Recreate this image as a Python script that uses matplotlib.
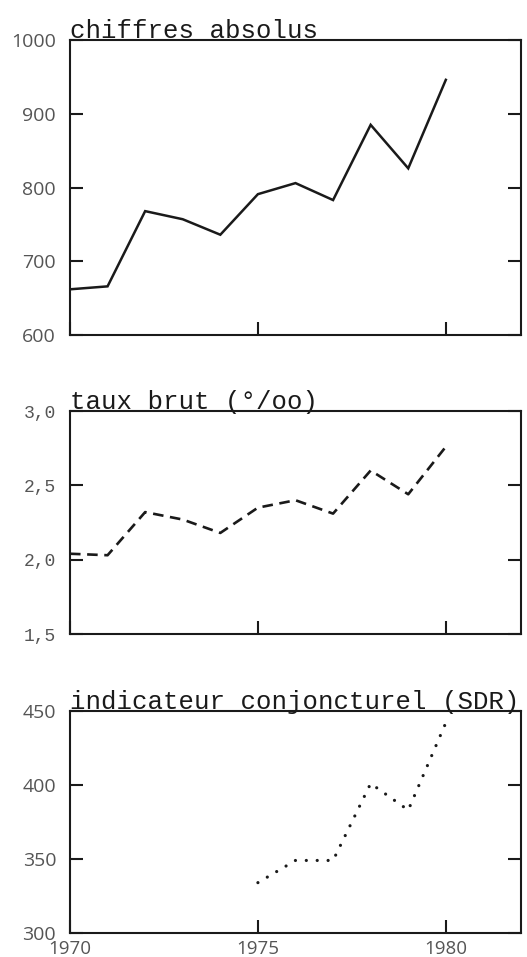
import matplotlib.pyplot as plt
import matplotlib.ticker as mticker

# données
annees = [1970, 1971, 1972, 1973, 1974, 1975, 1976, 1977, 1978, 1979, 1980]
chiffres = [662, 666, 768, 757, 736, 791, 806, 783, 885, 826, 946]
taux = [2.04, 2.03, 2.32, 2.27, 2.18, 2.35, 2.40, 2.31, 2.60, 2.44, 2.76]

annees_icf = [1975, 1976, 1977, 1978, 1979, 1980]
icf = [334, 349, 349, 401, 383, 442]

titres = ['chiffres absolus', 'taux brut (°/oo)', 'indicateur conjoncturel (SDR)']
yticks_1 = [600, 700, 800, 900, 1000]
yticks_2 = [1.5, 2.0, 2.5, 3.0]
ylabels_2 = ['1,5', '2,0', '2,5', '3,0']
yticks_3 = [300, 350, 400, 450]
xticks = [1970, 1975, 1980]

fig = plt.figure(figsize=(5.27, 9.57), dpi=100)
W = 0.8558
L = 0.1328
ax1 = fig.add_axes([L, 0.6499, W, 0.3083])
ax2 = fig.add_axes([L, 0.3375, W, 0.2330])
ax3 = fig.add_axes([L, 0.0251, W, 0.2320])

gris = '#555555'
mono = 'Liberation Mono'
sans = 'Open Sans'

ax1.plot(annees, chiffres, color='#1a1a1a', lw=1.8, solid_joinstyle='miter')
ax2.plot(annees, taux, color='#1a1a1a', lw=1.9, linestyle=(0, (4, 2.5)))
# pointillé : points ronds
ax3.plot(annees_icf, icf, color='#1a1a1a', lw=2.3, linestyle=(0, (0.01, 3.4)),
         dash_capstyle='round')

ax1.set_ylim(600, 1000)
ax1.set_yticks(yticks_1)
ax2.set_ylim(1.5, 3.0)
ax2.set_yticks(yticks_2)
ax2.yaxis.set_major_formatter(mticker.FixedFormatter(ylabels_2))
ax3.set_ylim(300, 450)
ax3.set_yticks(yticks_3)

for i, ax in enumerate([ax1, ax2, ax3]):
    ax.set_xlim(1970, 1982)
    ax.set_xticks(xticks)
    for s in ax.spines.values():
        s.set_linewidth(1.5)
        s.set_color('#1a1a1a')
    ax.tick_params(axis='both', direction='in', length=9.5, width=1.5,
                   color='#1a1a1a', right=True, top=False)
    ax.tick_params(axis='y', pad=10, labelcolor=gris, labelsize=14)
    ax.tick_params(axis='x', pad=5, labelcolor=gris, labelsize=13.5)
    for lab in ax.get_yticklabels():
        lab.set_family(mono if i == 1 else sans)
        if i == 1:
            lab.set_fontsize(13)
    if i < 2:
        ax.set_xticklabels([])
    else:
        for lab in ax.get_xticklabels():
            lab.set_family(sans)
    ax.text(0.0, 1.008, titres[i], transform=ax.transAxes, family=mono,
            fontsize=18.5, color='#1a1a1a', va='baseline', ha='left')

fig.savefig('out.png', dpi=100)
